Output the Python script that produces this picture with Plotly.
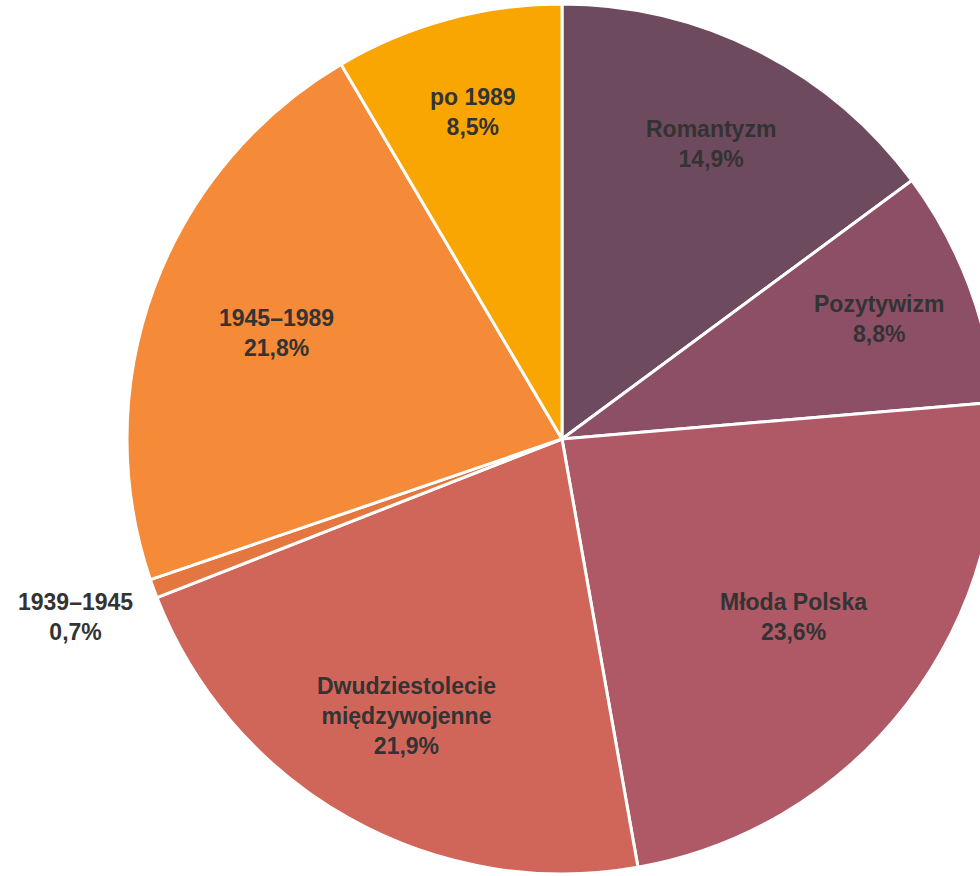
import math
import plotly.graph_objects as go

labels = ["Romantyzm", "Pozytywizm", "Młoda Polska", "Dwudziestolecie<br>międzywojenne",
          "1939–1945", "1945–1989", "po 1989"]
values = [14.9, 8.8, 23.6, 21.9, 0.7, 21.8, 8.5]
colors = ["#6E4A5E", "#8D4F66", "#AF5866", "#D0665A", "#E3773F", "#F58A38", "#F9A602"]

# style: label distance from centre as a fraction of the radius
label_radius = [0.76, 0.78, 0.67, 0.73, 1.19, 0.70, 0.78]

texts = [f"<b>{l}<br>{str(v).replace('.', ',')}%</b>" for l, v in zip(labels, values)]

W, H = 1010, 876
MT, MB = 4, 2
cx, r = 562, 435
cy = MT + r

font = dict(family="Liberation Sans", size=23, color="#333333")

fig = go.Figure(go.Pie(
    values=values,
    labels=labels,
    textinfo="none",
    hoverinfo="label+percent",
    sort=False,
    direction="clockwise",
    rotation=0,
    marker=dict(colors=colors, line=dict(color="white", width=3)),
    domain=dict(x=[(cx - r) / W, (cx + r) / W], y=[0, 1]),
    showlegend=False,
))

# label positions derived from the slice mid-angles
total = sum(values)
cum = 0.0
for v, t, f in zip(values, texts, label_radius):
    mid = (cum + v / 2) / total * 2 * math.pi
    cum += v
    px = cx + f * r * math.sin(mid)
    py = cy - f * r * math.cos(mid)
    fig.add_annotation(
        x=px / W, y=(H - MB - py) / (H - MT - MB),
        xref="paper", yref="paper",
        text=t, showarrow=False,
        font=font, align="center",
        xanchor="center", yanchor="middle",
    )

fig.update_layout(
    width=W, height=H,
    margin=dict(l=0, r=0, t=MT, b=MB),
    paper_bgcolor="white",
    plot_bgcolor="white",
    font=font,
)

fig.write_html("out.html", config={"displayModeBar": False},
               post_script="document.body.style.margin='0';document.body.style.overflow='hidden';")
